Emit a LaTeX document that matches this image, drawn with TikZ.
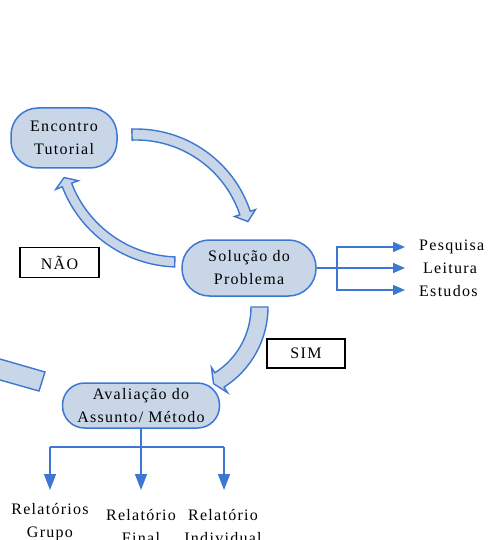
\documentclass[tikz,border=0pt]{standalone}
\usepackage{fontspec}
\setmainfont{Liberation Serif}[LetterSpace=8]
\usetikzlibrary{arrows.meta,calc}
\definecolor{bborder}{RGB}{60,120,210}
\definecolor{bfill}{RGB}{200,214,232}
\newcommand{\myblockarrow}[8]{%
  \pgfmathsetmacro{\hdir}{(#5<#4)?(#5-90):(#5+90)}%
  \pgfmathsetmacro{\rout}{#3+#6}\pgfmathsetmacro{\rin}{#3-#6}%
  \pgfmathsetmacro{\hout}{#3+#7}\pgfmathsetmacro{\hin}{#3-#7}%
  \filldraw[blockarrow] ($(#1,#2)+(#4:\rout)$) arc[start angle=#4,end angle=#5,radius=\rout]
    -- ($(#1,#2)+(#5:\hout)$) -- ($(#1,#2)+(#5:#3)+(\hdir:#8)$) -- ($(#1,#2)+(#5:\hin)$)
    -- ($(#1,#2)+(#5:\rin)$) arc[start angle=#5,end angle=#4,radius=\rin] -- cycle;}
\tikzset{
  txtfont/.style={font=\fontsize{16}{23}\selectfont},
  capsule/.style={draw=bborder, fill=bfill, line width=1.5pt, align=center, txtfont, inner sep=0pt},
  labelbox/.style={draw=black, line width=1.2pt, minimum width=79pt, minimum height=30pt, txtfont, inner sep=0pt},
  blockarrow/.style={draw=bborder, fill=bfill, line width=1.4pt, line join=miter},
  conn/.style={draw=bborder, line width=1.6pt},
  rarrow/.style={conn, -{Triangle[length=12pt,width=10pt]}},
  barrow/.style={conn, -{Triangle[length=16pt,width=12pt]}},
  txt/.style={txtfont, align=center, inner sep=0pt}
}
\begin{document}
\begin{tikzpicture}[x=1pt,y=1pt]
\useasboundingbox (0,0) rectangle (487,-540);
% block arrows
\myblockarrow{136}{-249.5}{115}{92}{18.5}{5.5}{11}{9}
\myblockarrow{179}{-142}{120}{268}{201}{5}{12}{8}
\myblockarrow{173}{-307}{86.5}{0}{-57.5}{8.5}{15}{7}
% partial arrow entering from the left
\filldraw[blockarrow] (-6,-357.3) -- (45,-372) -- (39,-391) -- (-6,-378.3) -- cycle;
% main nodes
\node[capsule, minimum width=106pt, minimum height=60pt, rounded corners=27pt] (enc) at (64,-138) {Encontro\\Tutorial};
\node[capsule, minimum width=134pt, minimum height=56pt, rounded corners=27.5pt] (sol) at (249,-268) {Solução do\\Problema};
\node[capsule, minimum width=157pt, minimum height=45pt, rounded corners=22pt] (ava) at (141,-405.5) {Avaliação do\\Assunto/ Método};
% decision labels
\node[labelbox] (nao) at (59.5,-262.5) {NÃO};
\node[labelbox, minimum width=78pt, minimum height=29pt] (sim) at (306,-353.5) {SIM};
% right outputs
\node[txtfont, anchor=base west, inner sep=0pt] (pes) at (419,-250) {Pesquisa};
\node[txtfont, anchor=base west, inner sep=0pt] (lei) at (423,-273) {Leitura};
\node[txtfont, anchor=base west, inner sep=0pt] (est) at (419,-296) {Estudos};
\coordinate (rsplit) at (337,-268);
\coordinate (tpes) at (405,-247);
\coordinate (tlei) at (405,-268);
\coordinate (test) at (405,-290);
\draw[conn] (sol.east) -- (rsplit);
\draw[rarrow] (rsplit) -- (tlei);
\draw[rarrow] (rsplit) |- (tpes);
\draw[rarrow] (rsplit) |- (test);
% bottom outputs
\node[txt] (rg) at (50,-522) {Relatórios\\Grupo};
\node[txt] (rf) at (141,-527) {Relatório\\Final};
\node[txt] (ri) at (223,-527) {Relatório\\Individual};
\coordinate (bsplit) at (141,-447);
\coordinate (bl) at (50,-447);
\coordinate (br) at (224,-447);
\coordinate (tg) at (50,-490);
\coordinate (tf) at (141,-490);
\coordinate (ti) at (224,-490);
\draw[conn] (ava.south) -- (bsplit);
\draw[conn] (bl) -- (br);
\draw[barrow] (bl) -- (tg);
\draw[barrow] (bsplit) -- (tf);
\draw[barrow] (br) -- (ti);
\end{tikzpicture}
\end{document}
